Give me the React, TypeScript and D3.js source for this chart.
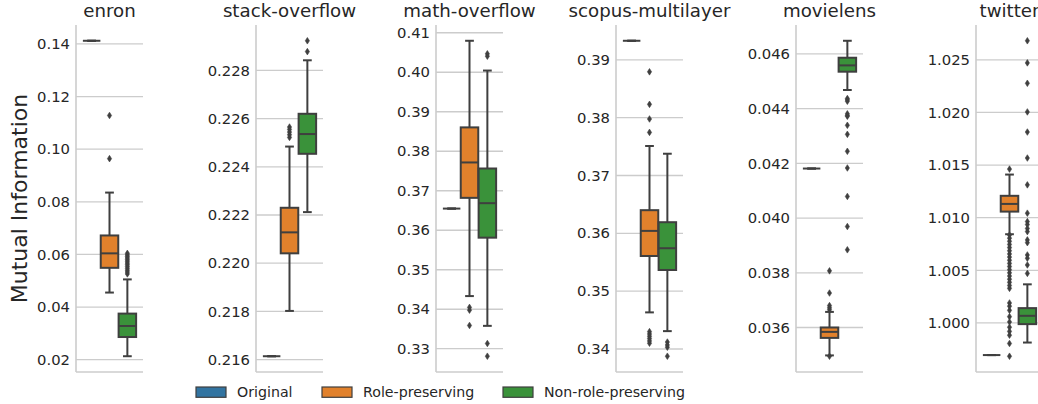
import React from "react";
import * as d3 from "d3";

const datasets = ["enron", "stack-overflow", "math-overflow", "scopus-multilayer", "movielens", "twitter"];
const groups = ["Original", "Role-preserving", "Non-role-preserving"];
const colors = ["#3274a1", "#e1812c", "#3a923a"];

// each box: [lower whisker, q1, median, q3, upper whisker], one per group
const enronBoxes = [
  [0.1412, 0.1412, 0.1412, 0.1412, 0.1412],
  [0.0455, 0.0549, 0.0604, 0.0672, 0.0835],
  [0.0213, 0.0286, 0.0328, 0.0375, 0.0505],
];
const enronFliers = [
  [],
  [0.1128, 0.0964],
  [0.0604, 0.0598, 0.0592, 0.0586, 0.058, 0.0574, 0.0567, 0.0561, 0.0554, 0.0547, 0.054, 0.0533, 0.0526],
];
const stackBoxes = [
  [0.21614, 0.21614, 0.21614, 0.21614, 0.21614],
  [0.21802, 0.22041, 0.22128, 0.2223, 0.22484],
  [0.22212, 0.22454, 0.22536, 0.2262, 0.22842],
];
const stackFliers = [
  [],
  [0.22565, 0.22555, 0.22544, 0.22533, 0.22522],
  [0.22923, 0.22878],
];
const mathBoxes = [
  [0.36548, 0.36548, 0.36548, 0.36548, 0.36548],
  [0.34333, 0.3682, 0.37716, 0.38604, 0.40797],
  [0.33579, 0.35812, 0.36685, 0.37563, 0.40043],
];
const mathFliers = [
  [],
  [0.34046, 0.33977, 0.33589],
  [0.40467, 0.40406, 0.33132, 0.3281],
];
const scopusBoxes = [
  [0.39329, 0.39329, 0.39329, 0.39329, 0.39329],
  [0.34633, 0.35608, 0.36042, 0.364, 0.3751],
  [0.34309, 0.35366, 0.35742, 0.36192, 0.37376],
];
const scopusFliers = [
  [],
  [0.38792, 0.3823, 0.37977, 0.37745, 0.343, 0.3426, 0.3422, 0.3418, 0.3414, 0.341],
  [0.3412, 0.3407, 0.3403, 0.33875],
];
const movieBoxes = [
  [0.04181, 0.04181, 0.04181, 0.04181, 0.04181],
  [0.03498, 0.03562, 0.03584, 0.036, 0.03657],
  [0.04468, 0.04535, 0.04558, 0.04586, 0.04648],
];
const movieFliers = [
  [],
  [0.03807, 0.03726, 0.0368, 0.03672, 0.03665, 0.03495],
  [0.04437, 0.04432, 0.04427, 0.04381, 0.04375, 0.04372, 0.04339, 0.04306, 0.04244, 0.04183, 0.04079, 0.03969, 0.03884],
];
const twitterBoxes = [
  [0.99695, 0.99695, 0.99695, 0.99695, 0.99695],
  [1.00843, 1.01058, 1.01131, 1.01208, 1.0141],
  [0.99814, 0.99989, 1.00068, 1.00141, 1.00367],
];
const twitterFliers = [
  [],
  [1.01462, 1.00836, 1.00806, 1.00776, 1.00746, 1.00716, 1.00686, 1.00656, 1.00626, 1.00596, 1.00566,
    1.00536, 1.00506, 1.00476, 1.00446, 1.00416, 1.00386, 1.00356, 1.00329,
    1.0019, 1.0016, 1.0012, 1.0006, 1.0001, 0.9996, 0.9992, 0.99884, 0.99805, 0.99684],
  [1.02681, 1.02471, 1.02277, 1.02005, 1.01814, 1.01567, 1.01312, 1.01043, 1.00963, 1.00935, 1.00898,
    1.00868, 1.00789, 1.00763, 1.00646, 1.00615, 1.00551, 1.00471],
];

const enronTicks = [0.02, 0.04, 0.06, 0.08, 0.1, 0.12, 0.14];
const stackTicks = [0.216, 0.218, 0.22, 0.222, 0.224, 0.226, 0.228];
const mathTicks = [0.33, 0.34, 0.35, 0.36, 0.37, 0.38, 0.39, 0.4, 0.41];
const scopusTicks = [0.34, 0.35, 0.36, 0.37, 0.38, 0.39];
const movieTicks = [0.036, 0.038, 0.04, 0.042, 0.044, 0.046];
const twitterTicks = [1.0, 1.005, 1.01, 1.015, 1.02, 1.025];
const tickDigits = [2, 3, 2, 2, 3, 3];

const allBoxes = [enronBoxes, stackBoxes, mathBoxes, scopusBoxes, movieBoxes, twitterBoxes];
const allFliers = [enronFliers, stackFliers, mathFliers, scopusFliers, movieFliers, twitterFliers];
const allTicks = [enronTicks, stackTicks, mathTicks, scopusTicks, movieTicks, twitterTicks];

const W = 1038;
const H = 404;
const top = 25;
const bottom = 372;
const panelW = 67;
const font = "'DejaVu Sans', sans-serif";
const gray = "#3f3f3f";
const textColor = "#262626";
const lineColor = "#cccccc";

const panelX = d3.scaleLinear().domain([0, 1]).range([76, 256]);

function Panel({ index }: { index: number }) {
  const boxes = allBoxes[index];
  const fliers = allFliers[index];
  const ticks = allTicks[index];
  const x0 = panelX(index);
  const values = [...boxes.flat(), ...fliers.flat()];
  const [lo, hi] = d3.extent(values) as [number, number];
  const pad = (hi - lo) * 0.05;
  const y = d3.scaleLinear().domain([lo - pad, hi + pad]).range([bottom, top]);
  const x = d3.scaleBand().domain(groups).range([x0 + panelW * 0.1, x0 + panelW * 0.9]);
  const bw = x.bandwidth() * 0.98;
  const fmt = d3.format(`.${tickDigits[index]}f`);

  return (
    <g>
      {ticks.map((t) => (
        <g key={t}>
          <line x1={x0} x2={x0 + panelW} y1={y(t)} y2={y(t)} stroke={lineColor} strokeWidth={1.3} />
          <text x={x0 - 6} y={y(t)} dy="0.35em" textAnchor="end" fontSize={14.8} fill={textColor} fontFamily={font}>
            {fmt(t)}
          </text>
        </g>
      ))}
      <line x1={x0} x2={x0} y1={top} y2={bottom} stroke={lineColor} strokeWidth={1.6} />
      <line x1={x0} x2={x0 + panelW} y1={bottom} y2={bottom} stroke={lineColor} strokeWidth={1.6} />
      <text x={x0 + panelW / 2} y={17} textAnchor="middle" fontSize={18.2} fill={textColor} fontFamily={font}>
        {datasets[index]}
      </text>
      {boxes.map((b, gi) => {
        const cx = (x(groups[gi]) as number) + x.bandwidth() / 2;
        const [wl, q1, med, q3, wh] = b;
        return (
          <g key={gi}>
            <line x1={cx} x2={cx} y1={y(q1)} y2={y(wl)} stroke={gray} strokeWidth={2} />
            <line x1={cx} x2={cx} y1={y(q3)} y2={y(wh)} stroke={gray} strokeWidth={2} />
            <line x1={cx - bw / 4} x2={cx + bw / 4} y1={y(wl)} y2={y(wl)} stroke={gray} strokeWidth={2} />
            <line x1={cx - bw / 4} x2={cx + bw / 4} y1={y(wh)} y2={y(wh)} stroke={gray} strokeWidth={2} />
            <rect
              x={cx - bw / 2}
              y={y(q3)}
              width={bw}
              height={Math.max(0, y(q1) - y(q3))}
              fill={colors[gi]}
              stroke={gray}
              strokeWidth={2}
            />
            <line x1={cx - bw / 2} x2={cx + bw / 2} y1={y(med)} y2={y(med)} stroke={gray} strokeWidth={2} />
            {fliers[gi].map((f, k) => (
              <path
                key={k}
                transform={`translate(${cx},${y(f)})`}
                d="M0,-3.3L2.1,0L0,3.3L-2.1,0Z"
                fill={gray}
                stroke={gray}
                strokeWidth={0.6}
              />
            ))}
          </g>
        );
      })}
    </g>
  );
}

const legendX = [196, 322, 503];

export default function App() {
  return (
    <svg width={W} height={H} style={{ position: "absolute", left: 0, top: 0, background: "#fff" }}>
      <rect width={W} height={H} fill="#fff" />
      {datasets.map((d, i) => (
        <Panel key={d} index={i} />
      ))}
      <text
        transform={`translate(26.5,${(top + bottom) / 2}) rotate(-90)`}
        textAnchor="middle"
        fontSize={22}
        fill={textColor}
        fontFamily={font}
      >
        Mutual Information
      </text>
      {groups.map((g, i) => (
        <g key={g}>
          <rect x={legendX[i]} y={387} width={30} height={10.3} fill={colors[i]} stroke={gray} strokeWidth={1.2} />
          <text x={legendX[i] + 41} y={392} dy="0.35em" fontSize={14.2} fill={textColor} fontFamily={font}>
            {g}
          </text>
        </g>
      ))}
    </svg>
  );
}
